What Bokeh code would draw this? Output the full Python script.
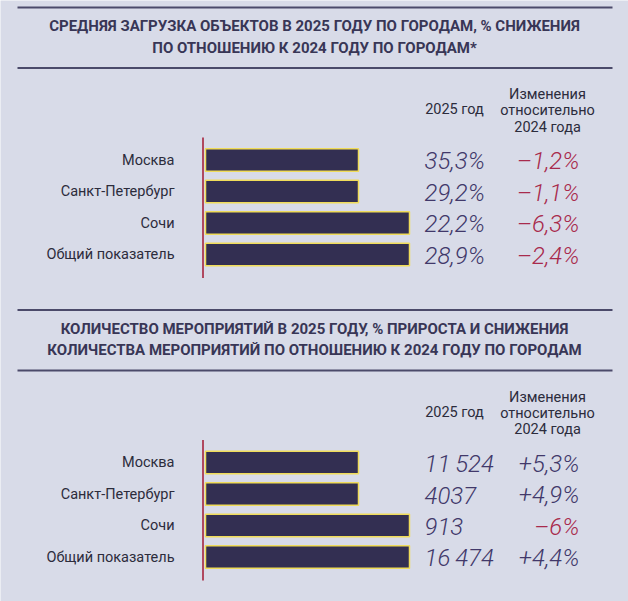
from bokeh.plotting import figure
from bokeh.embed import file_html
from bokeh.resources import INLINE
from bokeh.core.properties import value
from bokeh.models import Range1d

# ---------------- data ----------------
cities = ["Москва", "Санкт-Петербург", "Сочи", "Общий показатель"]

title1 = ["СРЕДНЯЯ ЗАГРУЗКА ОБЪЕКТОВ В 2025 ГОДУ ПО ГОРОДАМ, % СНИЖЕНИЯ",
          "ПО ОТНОШЕНИЮ К 2024 ГОДУ ПО ГОРОДАМ*"]
load_2025 = ["35,3%", "29,2%", "22,2%", "28,9%"]
load_change = ["–1,2%", "–1,1%", "–6,3%", "–2,4%"]
load_bar = [3, 3, 4, 4]

title2 = ["КОЛИЧЕСТВО МЕРОПРИЯТИЙ В 2025 ГОДУ, % ПРИРОСТА И СНИЖЕНИЯ",
          "КОЛИЧЕСТВА МЕРОПРИЯТИЙ ПО ОТНОШЕНИЮ К 2024 ГОДУ ПО ГОРОДАМ"]
events_2025 = ["11\u2009524", "4037", "913", "16\u2009474"]
events_change = ["+5,3%", "+4,9%", "–6%", "+4,4%"]
events_bar = [3, 3, 4, 4]

col_year = "2025 год"
col_change = ["Изменения", "относительно", "2024 года"]

# ---------------- style ----------------
BG = "#d8dbe8"
NAVY = "#332f52"
RULE = "#4b4a6a"
TITLE_C = "#383656"
LABEL_C = "#2c2c3c"
VAL_C = "#41386a"
RED = "#a82a4c"
AXIS_RED = "#b0485f"
GOLD = "#f0dc5a"

W, H = 628, 601
p = figure(width=W, height=H, x_range=Range1d(0, W), y_range=Range1d(H, 0),
           output_backend="svg", toolbar_location=None, min_border=0)
p.axis.visible = False
p.grid.visible = False
p.outline_line_color = None
p.background_fill_color = BG
p.border_fill_color = BG

UNIT = 51
BAR_X0 = 205
ROW_STEP = 31.5
BAR_H = 22.5


def panel(top, titles, vals, changes, bars):
    # rules
    p.segment(x0=[17, 17], y0=[top, top + 60.5], x1=[612, 612], y1=[top, top + 60.5],
              line_color=RULE, line_width=2)
    p.text(x=[314, 314], y=[top + 18.5, top + 40], text=titles,
           text_align="center", text_baseline="middle",
           text_font=value("Roboto"), text_font_style="bold",
           text_font_size="15px", text_color=TITLE_C)
    # column headers
    p.text(x=[454], y=[top + 102], text=[col_year], text_align="center",
           text_baseline="middle", text_font=value("Roboto"),
           text_font_size="14.5px", text_color=LABEL_C)
    p.text(x=[547] * 3, y=[top + 87, top + 103, top + 119.5], text=col_change,
           text_align="center", text_baseline="middle", text_font=value("Roboto"),
           text_font_size="14.5px", text_color=LABEL_C)
    rows = [top + 152.5 + i * ROW_STEP for i in range(len(cities))]
    # bars
    p.hbar(y=rows, left=BAR_X0, right=[BAR_X0 + b * UNIT for b in bars],
           height=BAR_H, fill_color=NAVY, line_color=GOLD, line_width=1.5)
    # baseline
    p.segment(x0=[202.5], y0=[top + 130], x1=[202.5], y1=[top + 270.5],
              line_color=AXIS_RED, line_width=2)
    # labels
    p.text(x=[174] * len(cities), y=rows, text=cities, text_align="right",
           text_baseline="middle", text_font=value("Roboto"),
           text_font_size="14.5px", text_color=LABEL_C)
    p.text(x=[424] * len(vals), y=[r + 1 for r in rows], text=vals, text_align="left",
           text_baseline="middle", text_font=value("Roboto Light"),
           text_font_style="italic", text_font_size="24px", text_color=VAL_C)
    colors = [RED if c.startswith("–") else VAL_C for c in changes]
    p.text(x=[579] * len(changes), y=[r + 1 for r in rows], text=changes,
           text_align="right", text_baseline="middle", text_font=value("Roboto Light"),
           text_font_style="italic", text_font_size="24px", text_color=colors)


panel(7, title1, load_2025, load_change, load_bar)
panel(309.5, title2, events_2025, events_change, events_bar)

open("out.html", "w").write(file_html(p, INLINE))
